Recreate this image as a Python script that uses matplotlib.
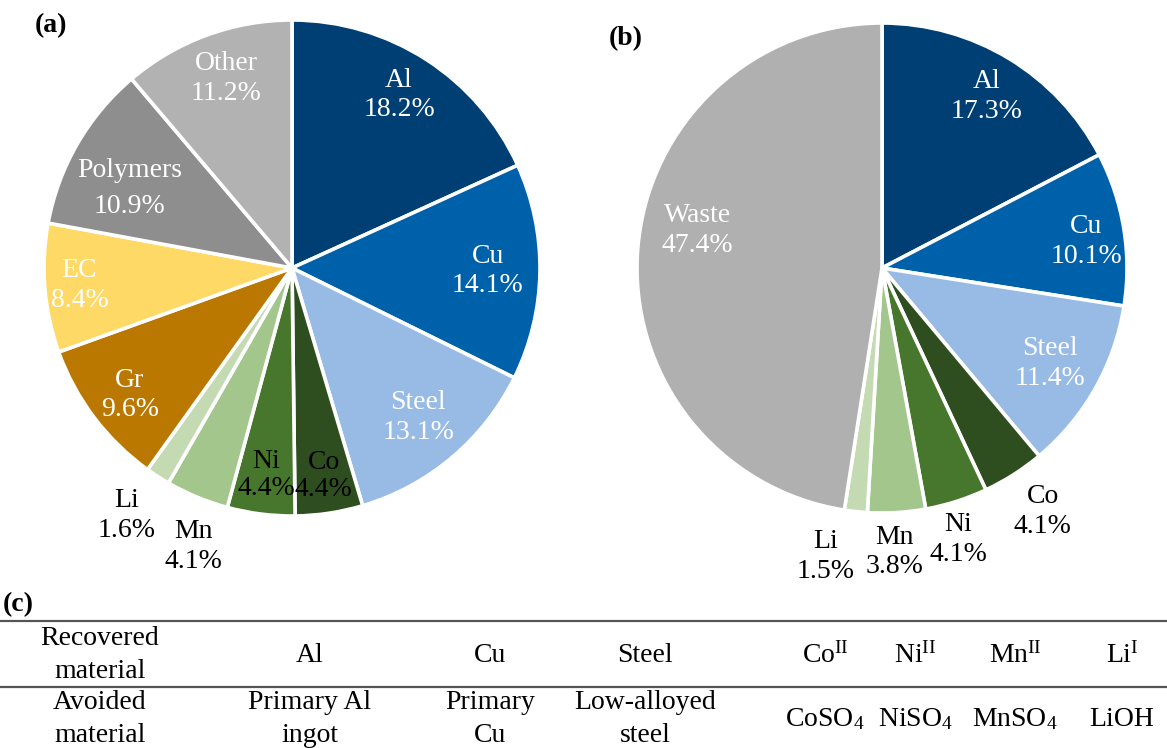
import numpy as np
import matplotlib
matplotlib.use("Agg")
import matplotlib.pyplot as plt

plt.rcParams['font.family'] = ['Liberation Serif', 'DejaVu Serif']
plt.rcParams['mathtext.fontset'] = 'custom'
plt.rcParams['mathtext.rm'] = 'Liberation Serif'
plt.rcParams['mathtext.it'] = 'Liberation Serif:italic'

# (a) composition of the battery pack
labels_a = ["Al", "Cu", "Steel", "Co", "Ni", "Mn", "Li", "Gr", "EC", "Polymers", "Other"]
shares_a = [18.2, 14.1, 13.1, 4.4, 4.4, 4.1, 1.6, 9.6, 8.4, 10.9, 11.2]

# (b) recovered fractions
labels_b = ["Al", "Cu", "Steel", "Co", "Ni", "Mn", "Li", "Waste"]
shares_b = [17.3, 10.1, 11.4, 4.1, 4.1, 3.8, 1.5, 47.4]

# (c) recovered vs. avoided material
row_heads = ["Recovered\nmaterial", "Avoided\nmaterial"]
recovered = ["Al", "Cu", "Steel", r"Co$^{\mathrm{II}}$", r"Ni$^{\mathrm{II}}$",
             r"Mn$^{\mathrm{II}}$", r"Li$^{\mathrm{I}}$"]
avoided = ["Primary Al\ningot", "Primary\nCu", "Low-alloyed\nsteel",
           r"CoSO$_4$", r"NiSO$_4$", r"MnSO$_4$", "LiOH"]

colors = {
    "Al": "#003f74", "Cu": "#0061ab", "Steel": "#97bbe4", "Co": "#2f4e20",
    "Ni": "#47762d", "Mn": "#a2c68c", "Li": "#c4dab2", "Gr": "#bb7800",
    "EC": "#fed966", "Polymers": "#8e8e8e", "Other": "#b2b2b2", "Waste": "#b0b0b0",
}

W, H = 1167, 748
fig = plt.figure(figsize=(W / 100, H / 100), dpi=100)
ax = fig.add_axes([0, 0, 1, 1])
ax.set_xlim(0, W)
ax.set_ylim(0, H)
ax.set_aspect('equal')
ax.axis('off')

FS = 20


def draw_pie(shares, labels, center, radius, place, dark):
    wedges, _ = ax.pie(shares, colors=[colors[l] for l in labels], startangle=90,
                       counterclock=False, center=center, radius=radius,
                       wedgeprops=dict(edgecolor='white', linewidth=2.6))
    ax.set_xlim(0, W)
    ax.set_ylim(0, H)
    for w, lab, val in zip(wedges, labels, shares):
        rf, dang, ls = place[lab]
        ang = np.deg2rad((w.theta1 + w.theta2) / 2 + dang)
        x = center[0] + rf * radius * np.cos(ang)
        y = center[1] + rf * radius * np.sin(ang)
        col = 'black' if lab in dark else 'white'
        ax.text(x, y, f"{lab}\n{val}%", ha='center', va='center', fontsize=FS,
                color=col, linespacing=ls)


place_a = {
    "Al": (0.82, 1, 1.25), "Cu": (0.79, 0, 1.25), "Steel": (0.79, 0, 1.25),
    "Co": (0.85, 0, 1.1), "Ni": (0.84, 0, 1.1), "Mn": (1.19, 3, 1.25),
    "Li": (1.20, -1, 1.25), "Gr": (0.83, 1, 1.25), "EC": (0.86, 0, 1.25),
    "Polymers": (0.73, 4, 1.6), "Other": (0.81, -1, 1.25),
}
draw_pie(shares_a, labels_a, (292, H - 268), 248, place_a,
         dark={"Co", "Ni", "Mn", "Li"})

place_b = {
    "Al": (0.82, 0, 1.25), "Cu": (0.84, -2, 1.25), "Steel": (0.79, 0, 1.25),
    "Co": (1.19, 1, 1.25), "Ni": (1.15, -2, 1.25), "Mn": (1.16, -1, 1.25),
    "Li": (1.20, -5, 1.25), "Waste": (0.77, -7, 1.25),
}
draw_pie(shares_b, labels_b, (882, H - 268), 245, place_b,
         dark={"Co", "Ni", "Mn", "Li"})

ax.text(35, H - 26, "(a)", fontsize=FS, fontweight='bold', ha='left', va='center')
ax.text(609, H - 39, "(b)", fontsize=FS, fontweight='bold', ha='left', va='center')
ax.text(3, H - 605, "(c)", fontsize=FS, fontweight='bold', ha='left', va='center')

# table (c)
ax.hlines([H - 621, H - 687], 0, W, colors='#555555', linewidth=1.6)
col_x = [310, 490, 645, 825, 915, 1015, 1122]
ax.text(100, H - 655, row_heads[0], ha='center', va='center', fontsize=FS, linespacing=1.4)
ax.text(100, H - 719, row_heads[1], ha='center', va='center', fontsize=FS, linespacing=1.4)
for x, r, a in zip(col_x, recovered, avoided):
    ax.text(x, H - 655, r, ha='center', va='center', fontsize=FS)
    ax.text(x, H - 719, a, ha='center', va='center', fontsize=FS, linespacing=1.4)

fig.savefig("out.png", dpi=100)
